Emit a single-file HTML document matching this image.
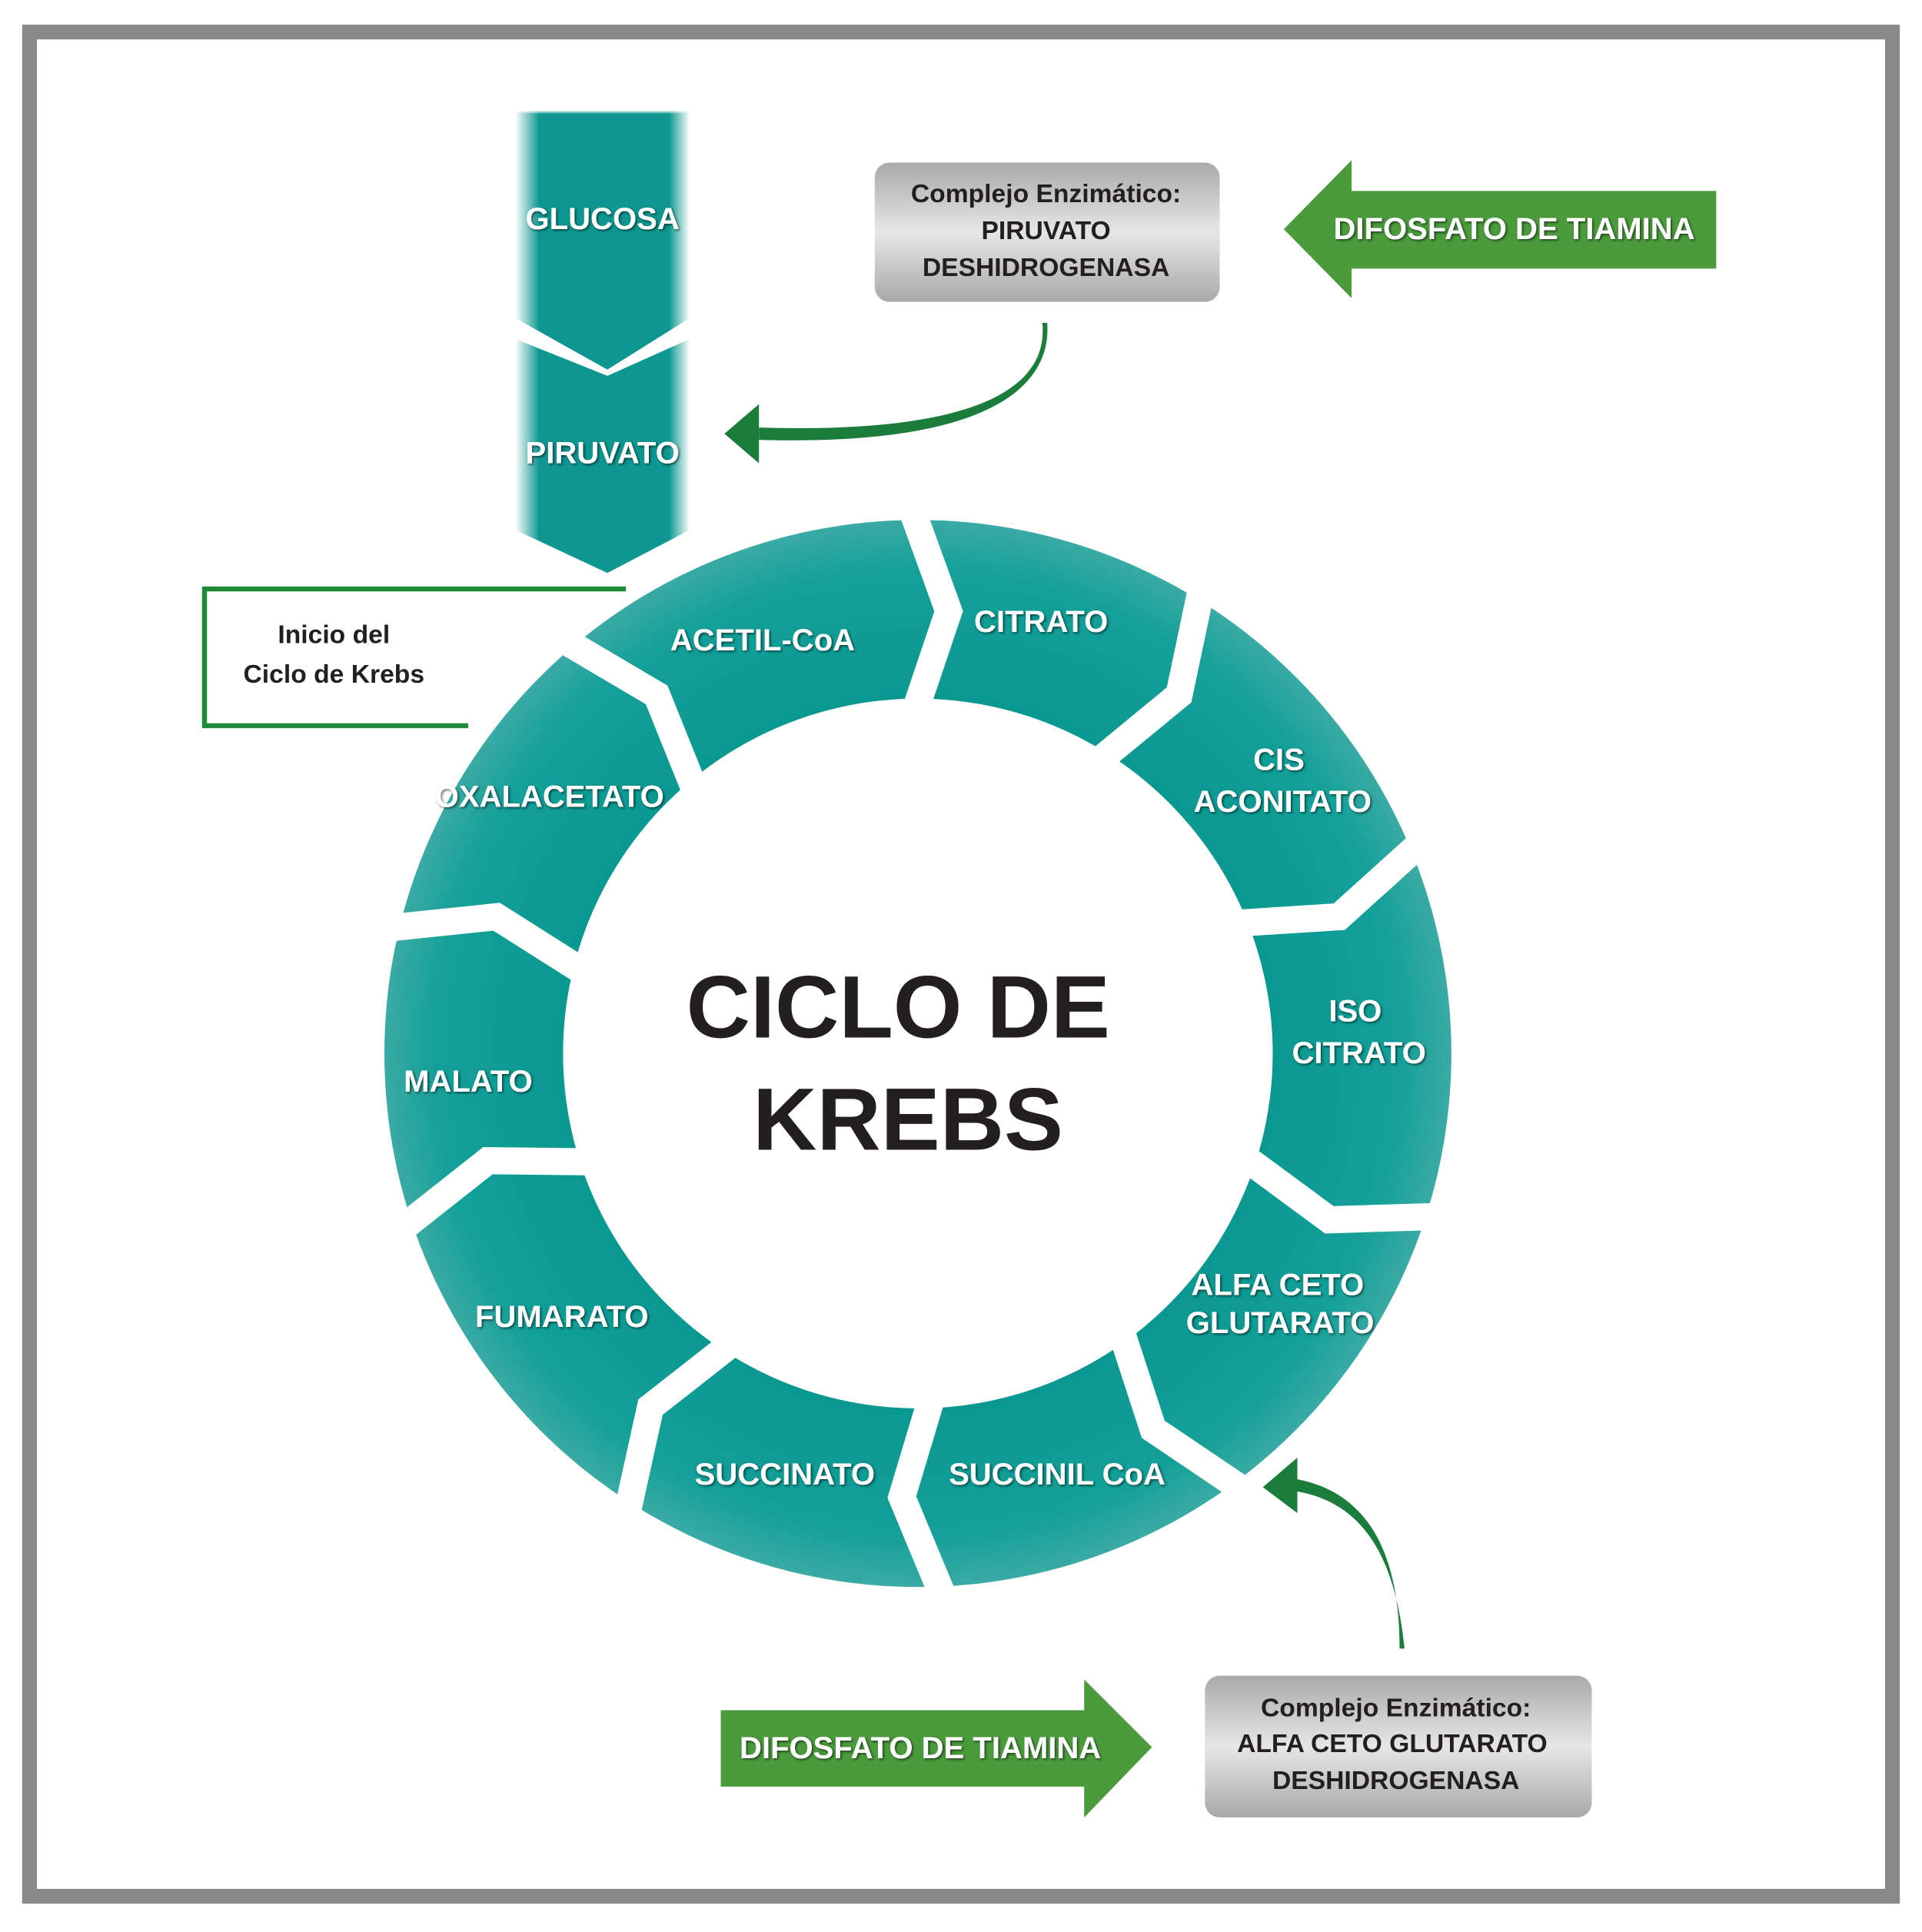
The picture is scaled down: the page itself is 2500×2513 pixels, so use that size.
<!DOCTYPE html>
<html><head><meta charset="utf-8"><style>
html,body{margin:0;padding:0;background:#fff;}
svg{display:block;}
text{font-family:"Liberation Sans",sans-serif;font-weight:bold;}
.lbl{fill:#fff;font-size:25px;text-anchor:middle;}
.box{fill:#231f20;font-size:21px;text-anchor:middle;}
</style></head><body>
<svg width="2500" height="2513" viewBox="0 0 1560 1568" preserveAspectRatio="none" xmlns="http://www.w3.org/2000/svg">
<defs>
<linearGradient id="col" x1="0" x2="1" y1="0" y2="0">
<stop offset="0" stop-color="#fff"/><stop offset="0.14" stop-color="#0d9790"/><stop offset="0.88" stop-color="#0d9790"/><stop offset="1" stop-color="#fff"/>
</linearGradient>
<linearGradient id="colv" x1="0" x2="0" y1="0" y2="1">
<stop offset="0" stop-color="#fff" stop-opacity="0.9"/><stop offset="0.08" stop-color="#fff" stop-opacity="0"/>
</linearGradient>
<radialGradient id="ring" cx="745" cy="855" r="433" gradientUnits="userSpaceOnUse">
<stop offset="0.66" stop-color="#0a9891"/><stop offset="0.9" stop-color="#12a098"/><stop offset="1" stop-color="#3aaaa4"/>
</radialGradient>
<linearGradient id="gray" x1="0" x2="0" y1="0" y2="1">
<stop offset="0" stop-color="#a9a9a9"/><stop offset="0.5" stop-color="#e6e6e6"/><stop offset="1" stop-color="#a9a9a9"/>
</linearGradient>
<filter id="sh"><feDropShadow dx="1" dy="1" stdDeviation="1" flood-color="#000" flood-opacity="0.6"/></filter>
</defs>
<rect x="0" y="0" width="1560" height="1568" fill="#fff"/>
<rect x="24" y="26" width="1512" height="1513" fill="none" stroke="#898989" stroke-width="12"/>

<!-- column -->
<path d="M418,90 L560,90 L560,258 L493,300 L418,258 Z" fill="url(#col)"/>
<path d="M418,275 L493,305 L560,275 L560,430 L493,465 L418,430 Z" fill="url(#col)"/>
<rect x="418" y="90" width="142" height="30" fill="url(#colv)"/>
<text class="lbl" x="489" y="186" filter="url(#sh)" font-size="23">GLUCOSA</text>
<text class="lbl" x="489" y="376" filter="url(#sh)" font-size="23">PIRUVATO</text>

<!-- ring -->
<path fill-rule="evenodd" fill="url(#ring)" d="M312,855 A433,433 0 1,0 1178,855 A433,433 0 1,0 312,855 Z M457,855 A288,288 0 1,1 1033,855 A288,288 0 1,1 457,855 Z"/>
<g fill="none" stroke="#fff" stroke-width="22" stroke-linejoin="miter">
<polyline points="737,405 770,496 740,585"/>
<polyline points="977,469 957,564 884,624"/>
<polyline points="1159,679 1087,744 993,750"/>
<polyline points="1175,987 1079,990 1003,934"/>
<polyline points="1016,1214 936,1160 907,1071"/>
<polyline points="769,1304 732,1215 759,1125"/>
<polyline points="507,1237 528,1142 602,1084"/>
<polyline points="320,1002 396,942 490,943"/>
<polyline points="307,754 403,744 482,794"/>
<polyline points="450,515 533,564 568,651"/>
</g>
<g filter="url(#sh)">
<text class="lbl" x="619" y="528">ACETIL-CoA</text>
<text class="lbl" x="845" y="513">CITRATO</text>
<text class="lbl" x="1038" y="625">CIS</text>
<text class="lbl" x="1041" y="659">ACONITATO</text>
<text class="lbl" x="1100" y="829">ISO</text>
<text class="lbl" x="1103" y="863">CITRATO</text>
<text class="lbl" x="1037" y="1051">ALFA CETO</text>
<text class="lbl" x="1039" y="1082">GLUTARATO</text>
<text class="lbl" x="858" y="1205">SUCCINIL CoA</text>
<text class="lbl" x="637" y="1205">SUCCINATO</text>
<text class="lbl" x="456" y="1077">FUMARATO</text>
<text class="lbl" x="380" y="886">MALATO</text>
<text class="lbl" x="446" y="655" font-size="21">OXALACETATO</text>
</g>
<text x="729" y="842" font-size="72" fill="#231f20" text-anchor="middle">CICLO DE</text>
<text x="737" y="933" font-size="72" fill="#231f20" text-anchor="middle">KREBS</text>

<!-- inicio box -->
<polyline points="508,478 166,478 166,589 380,589" fill="none" stroke="#1d8a3a" stroke-width="4"/>
<text class="box" x="271" y="522" font-size="23">Inicio del</text>
<text class="box" x="271" y="554" font-size="23">Ciclo de Krebs</text>

<!-- top gray box -->
<rect x="710" y="132" width="280" height="113" rx="12" fill="url(#gray)"/>
<text class="box" x="849" y="164">Complejo Enzimático:</text>
<text class="box" x="849" y="194">PIRUVATO</text>
<text class="box" x="849" y="224">DESHIDROGENASA</text>

<!-- top green arrow -->
<path d="M1042,186 L1097,130 L1097,155 L1393,155 L1393,218 L1097,218 L1097,242 Z" fill="#4b9b3c"/>
<text class="lbl" x="1229" y="194" filter="url(#sh)">DIFOSFATO DE TIAMINA</text>

<!-- top curved arrow -->
<path d="M846,262 C852,320 780,352 616,347 L616,357 C790,362 854,320 850,262 Z" fill="#1b7d3b"/>
<path d="M588,352 L616,328 L616,376 Z" fill="#1b7d3b"/>

<!-- bottom green arrow -->
<path d="M585,1388 L880,1388 L880,1363 L935,1418 L880,1475 L880,1450 L585,1450 Z" fill="#4b9b3c"/>
<text class="lbl" x="747" y="1427" filter="url(#sh)">DIFOSFATO DE TIAMINA</text>

<!-- bottom gray box -->
<rect x="978" y="1360" width="314" height="115" rx="12" fill="url(#gray)"/>
<text class="box" x="1133" y="1393">Complejo Enzimático:</text>
<text class="box" x="1130" y="1422">ALFA CETO GLUTARATO</text>
<text class="box" x="1133" y="1452">DESHIDROGENASA</text>

<!-- bottom curved arrow -->
<path d="M1136,1338 C1136,1260 1110,1210 1050,1200 L1050,1210 C1104,1218 1132,1260 1140,1338 Z" fill="#1b7d3b"/>
<path d="M1025,1207 L1053,1183 L1053,1228 Z" fill="#1b7d3b"/>
</svg>
</body></html>
